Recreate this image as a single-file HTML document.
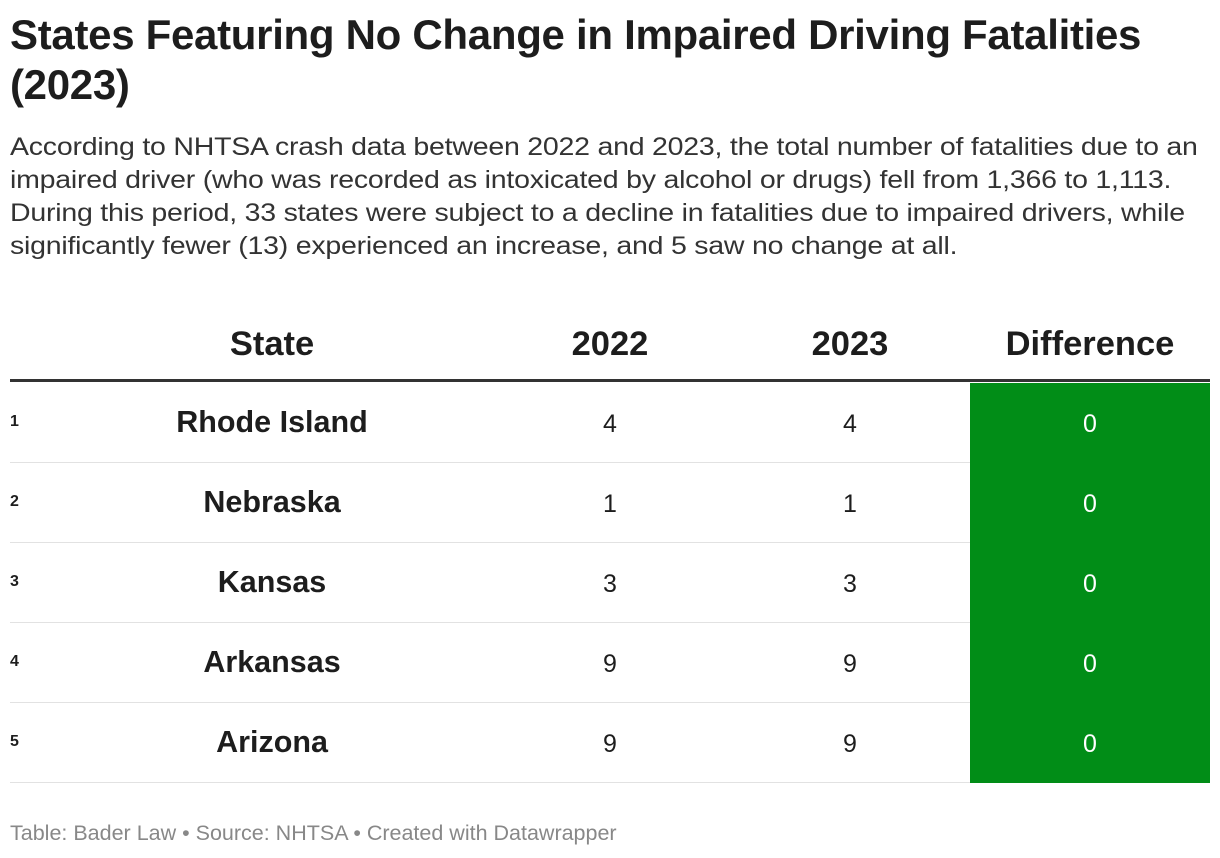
<!DOCTYPE html>
<html><head><meta charset="utf-8">
<style>
body{margin:0;width:1220px;height:858px;background:#fff;font-family:"Liberation Sans",sans-serif;color:#1d1d1d;position:relative;overflow:hidden}
.abs{position:absolute}
#title{left:10px;top:10px;width:1210px;font-size:42px;font-weight:bold;line-height:50px;letter-spacing:-0.3px;white-space:nowrap}
#desc{left:10px;top:131px;font-size:25px;line-height:33px;color:#333;letter-spacing:-0.2px;white-space:nowrap;transform:scaleX(1.14);transform-origin:0 0}
.hdr{top:322px;font-size:34.5px;font-weight:bold;text-align:center;width:240px;line-height:44px}
#hline{left:10px;top:379px;width:1200px;height:3px;background:#333}
.row{left:10px;width:1200px;height:80px}
.cell{position:absolute;top:0;height:80px;line-height:82px;text-align:center;width:240px;font-size:25px}
.sep{position:absolute;left:0;bottom:0;width:1200px;height:1px;background:#e2e2e2}
#footer{left:10px;top:821px;font-size:21.5px;color:#888;white-space:nowrap}
</style></head><body>
<div id="title" class="abs">States Featuring No Change in Impaired Driving Fatalities<br>(2023)</div>
<div id="desc" class="abs">According to NHTSA crash data between 2022 and 2023, the total number of fatalities due to an<br>impaired driver (who was recorded as intoxicated by alcohol or drugs) fell from 1,366 to 1,113.<br>During this period, 33 states were subject to a decline in fatalities due to impaired drivers, while<br>significantly fewer (13) experienced an increase, and 5 saw no change at all.</div>
<div class="abs hdr" style="left:152px">State</div>
<div class="abs hdr" style="left:490px">2022</div>
<div class="abs hdr" style="left:730px">2023</div>
<div class="abs hdr" style="left:970px">Difference</div>
<div id="hline" class="abs"></div>
<div id="rows"></div>
<div id="footer" class="abs">Table: Bader Law • Source: NHTSA • Created with Datawrapper</div>
<script>
const states=["Rhode Island","Nebraska","Kansas","Arkansas","Arizona"];
const v2022=[4,1,3,9,9];
const v2023=[4,1,3,9,9];
const container=document.getElementById('rows');
states.forEach((s,i)=>{
  const r=document.createElement('div');
  r.className='abs row';
  r.style.top=(383+i*80)+'px';
  
  
  const mk=(txt,left,extra)=>{const c=document.createElement('div');c.className='cell';c.style.left=left+'px';c.textContent=txt;if(extra)Object.assign(c.style,extra);r.appendChild(c);return c;};
  const rk=mk(String(i+1),0,{width:'30px',textAlign:'left',fontSize:'16px',fontWeight:'bold',lineHeight:'78px'});
  
  
  const st=mk(s,142,{fontWeight:'bold',fontSize:'30.5px',lineHeight:'78px'});
  
  
  const a=mk(String(v2022[i]),480);
  
  
  const b=mk(String(v2023[i]),720);
  
  
  const sep=document.createElement('div');sep.className='sep';r.appendChild(sep);
  
  
  const d=mk(String(v2023[i]-v2022[i]),960,{background:'#018d17',color:'#fff',zIndex:'1'});
  
  
  container.appendChild(r);
});
</script>
</body></html>
